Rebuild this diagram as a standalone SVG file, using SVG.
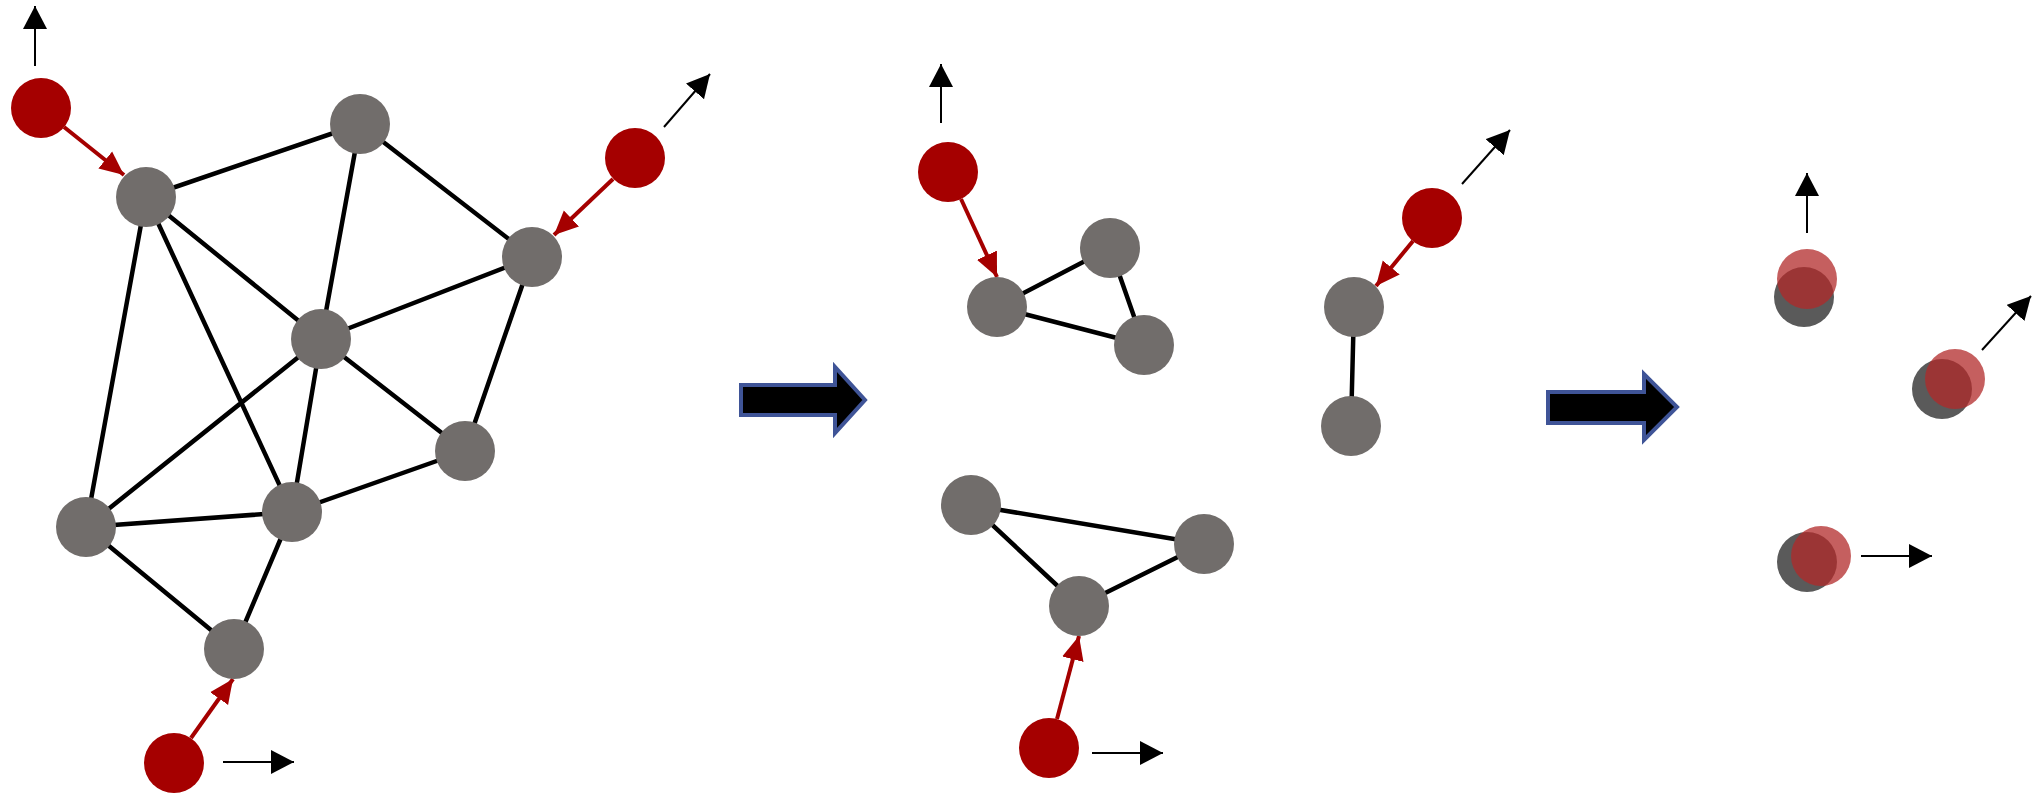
<svg xmlns="http://www.w3.org/2000/svg" width="2041" height="804" viewBox="0 0 2041 804">
<style>
.n{fill:#716d6b}.r{fill:#a50000}.e{stroke:#000;stroke-width:4.5;fill:none}
.ka{stroke:#000;stroke-width:2;fill:none;marker-end:url(#kh)}
.ra{stroke:#a50000;stroke-width:4;fill:none;marker-end:url(#rh)}
.big{fill:#000;stroke:#3f5497;stroke-width:4}
.g2{fill:#5a5a5a}.r2{fill:#b22a2a;fill-opacity:0.75}
</style>
<defs>
<marker id="kh" markerUnits="userSpaceOnUse" markerWidth="26" markerHeight="26" refX="23" refY="12" orient="auto"><path d="M0,0 L23,12 L0,24 Z" fill="#000"/></marker>
<marker id="rh" markerUnits="userSpaceOnUse" markerWidth="26" markerHeight="26" refX="24" refY="12" orient="auto"><path d="M0,1 L24,12 L0,23 Z" fill="#a50000"/></marker>
</defs>
<g id="connectors">
<path class="e" d="M146,197L360,124M360,124L532,257M360,124L321,339M146,197L321,339M146,197L86,527M146,197L292,512M532,257L321,339M532,257L465,451M321,339L465,451M321,339L86,527M321,339L292,512M86,527L292,512M292,512L465,451M86,527L234,649M292,512L234,649"/>
<path class="e" d="M1110,248L997,307M1110,248L1144,345M997,307L1144,345M1354,307L1351,426M971,505L1204,544M971,505L1079,606M1079,606L1204,544"/>
<path class="ra" d="M64,127L124,175"/>
<path class="ra" d="M613,179L554,235"/>
<path class="ra" d="M191,738L233,679"/>
<path class="ra" d="M961,199L997,277"/>
<path class="ra" d="M1413,241L1376,286"/>
<path class="ra" d="M1057,719L1079,636"/>
<path class="ka" d="M35,66L35,6"/>
<path class="ka" d="M664,127L710,74"/>
<path class="ka" d="M223,762L294,762"/>
<path class="ka" d="M941,123L941,64"/>
<path class="ka" d="M1462,184L1510,130"/>
<path class="ka" d="M1092,753L1163,753"/>
<path class="ka" d="M1807,233L1807,173"/>
<path class="ka" d="M1982,350L2031,296"/>
<path class="ka" d="M1861,556L1932,556"/>
</g>
<g id="bigarrow1"><path class="big" d="M741,385L835,385L835,367L865,400L835,433L835,415L741,415Z"/></g>
<g id="bigarrow2"><path class="big" d="M1548,392L1644,392L1644,374L1677,407L1644,440L1644,423L1548,423Z"/></g>
<g id="nA"><circle class="n" cx="146" cy="197" r="30"/></g>
<g id="nB"><circle class="n" cx="360" cy="124" r="30"/></g>
<g id="nC"><circle class="n" cx="532" cy="257" r="30"/></g>
<g id="nD"><circle class="n" cx="321" cy="339" r="30"/></g>
<g id="nE"><circle class="n" cx="465" cy="451" r="30"/></g>
<g id="nF"><circle class="n" cx="86" cy="527" r="30"/></g>
<g id="nG"><circle class="n" cx="292" cy="512" r="30"/></g>
<g id="nH"><circle class="n" cx="234" cy="649" r="30"/></g>
<g id="r1"><circle class="r" cx="41" cy="108" r="30"/></g>
<g id="r2"><circle class="r" cx="635" cy="158" r="30"/></g>
<g id="r3"><circle class="r" cx="174" cy="763" r="30"/></g>
<g id="m1"><circle class="n" cx="1110" cy="248" r="30"/></g>
<g id="m2"><circle class="n" cx="997" cy="307" r="30"/></g>
<g id="m3"><circle class="n" cx="1144" cy="345" r="30"/></g>
<g id="m4"><circle class="n" cx="1354" cy="307" r="30"/></g>
<g id="m5"><circle class="n" cx="1351" cy="426" r="30"/></g>
<g id="m6"><circle class="n" cx="971" cy="505" r="30"/></g>
<g id="m7"><circle class="n" cx="1204" cy="544" r="30"/></g>
<g id="m8"><circle class="n" cx="1079" cy="606" r="30"/></g>
<g id="mr1"><circle class="r" cx="948" cy="172" r="30"/></g>
<g id="mr2"><circle class="r" cx="1432" cy="218" r="30"/></g>
<g id="mr3"><circle class="r" cx="1049" cy="748" r="30"/></g>
<g id="f1"><circle class="g2" cx="1804" cy="297" r="30"/><circle class="r2" cx="1807" cy="279" r="30"/></g>
<g id="f2"><circle class="g2" cx="1942" cy="389" r="30"/><circle class="r2" cx="1955" cy="379" r="30"/></g>
<g id="f3"><circle class="g2" cx="1807" cy="562" r="30"/><circle class="r2" cx="1821" cy="556" r="30"/></g>
</svg>
